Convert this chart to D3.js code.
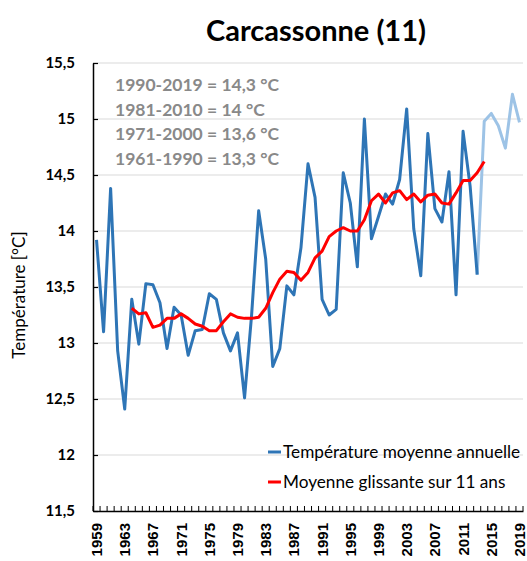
<!DOCTYPE html>
<html>
<head>
<meta charset="utf-8">
<script src="https://cdn.jsdelivr.net/npm/d3@7"></script>
<style>
  body { margin: 0; background: #fff; }
  svg { display: block; font-family: Lato, "Open Sans", sans-serif; }
</style>
</head>
<body>
<div id="chart"></div>
<script>
// Carcassonne annual mean temperature

const width = 527
const height = 561
const margin = { top: 63, right: 4, bottom: 50, left: 93 }

// Data
const years = d3.range(1959, 2020)
const temps = [
  13.92, 13.10, 14.38, 12.93, 12.41, 13.39, 12.99, 13.53, 13.52, 13.36,
  12.95, 13.32, 13.25, 12.89, 13.11, 13.12, 13.44, 13.39, 13.09, 12.93,
  13.09, 12.51, 13.25, 14.18, 13.75, 12.79, 12.95, 13.51, 13.43, 13.85,
  14.60, 14.30, 13.39, 13.25, 13.30, 14.52, 14.25, 13.68, 15.00, 13.93,
  14.13, 14.33, 14.24, 14.46, 15.09, 14.02, 13.60, 14.87, 14.20, 14.08,
  14.53, 13.43, 14.89, 14.40, 13.61, 14.98, 15.05, 14.94, 14.74, 15.22,
  14.97
]
const lastDarkYear = 2013
const avgYears = d3.range(1964, 2015)
const avg11 = [
  13.31, 13.26, 13.27, 13.14, 13.16, 13.22, 13.22, 13.26, 13.22, 13.17,
  13.15, 13.11, 13.11, 13.19, 13.26, 13.23, 13.22, 13.22, 13.23, 13.31,
  13.45, 13.57, 13.64, 13.63, 13.56, 13.63, 13.76, 13.82, 13.95, 14.00,
  14.03, 14.00, 14.00, 14.10, 14.27, 14.33, 14.25, 14.34, 14.36, 14.28,
  14.33, 14.26, 14.32, 14.33, 14.25, 14.24, 14.34, 14.45, 14.45, 14.52,
  14.62
]
const yTicks = [11.5, 12, 12.5, 13, 13.5, 14, 14.5, 15, 15.5]
const xLabelYears = d3.range(1959, 2020, 4)
const normals = [
  '1990-2019 = 14,3 °C',
  '1981-2010 = 14 °C',
  '1971-2000 = 13,6 °C',
  '1961-1990 = 13,3 °C'
]
const legendItems = [
  { label: 'Température moyenne annuelle', color: '#2e75b6' },
  { label: 'Moyenne glissante sur 11 ans', color: '#ff0000' }
]

const fmt = d => String(d).replace('.', ',')

const svg = d3.select('#chart')
  .append('svg')
  .attr('width', width)
  .attr('height', height)

const x = d3.scaleBand()
  .domain(years)
  .range([margin.left, width - margin.right])

const y = d3.scaleLinear()
  .domain([11.5, 15.5])
  .range([height - margin.bottom, margin.top])

const cx = d => x(d) + x.bandwidth() / 2

// Gridlines
svg.append('g')
  .selectAll('line')
  .data(yTicks.slice(1))
  .join('line')
  .attr('x1', margin.left)
  .attr('x2', width - margin.right)
  .attr('y1', d => y(d))
  .attr('y2', d => y(d))
  .attr('stroke', '#d9d9d9')
  .attr('stroke-width', 1)

// Y axis
const yAxis = svg.append('g')
  .attr('transform', `translate(${margin.left},0)`)
  .call(d3.axisLeft(y).tickValues(yTicks).tickFormat(fmt).tickSizeInner(-5).tickSizeOuter(0).tickPadding(18))
yAxis.select('.domain').attr('stroke', '#000').attr('stroke-width', 1.5)
yAxis.selectAll('.tick line').attr('stroke', '#000').attr('stroke-width', 1.2)
yAxis.selectAll('.tick text')
  .attr('font-family', 'Lato')
  .attr('font-size', 15)
  .attr('font-weight', 'bold')
  .attr('fill', '#000')

// X axis
const xAxis = svg.append('g')
  .attr('transform', `translate(0,${height - margin.bottom})`)
  .call(d3.axisBottom(x).tickValues([]).tickSizeOuter(0))
xAxis.select('.domain').attr('stroke', '#000').attr('stroke-width', 1.5)

// band boundary ticks, pointing up
xAxis.append('g')
  .selectAll('line')
  .data(years.concat([2020]))
  .join('line')
  .attr('x1', d => d === 2020 ? x.range()[1] : x(d))
  .attr('x2', d => d === 2020 ? x.range()[1] : x(d))
  .attr('y1', 0)
  .attr('y2', -5)
  .attr('stroke', '#000')
  .attr('stroke-width', 1)

xAxis.append('g')
  .selectAll('text')
  .data(xLabelYears)
  .join('text')
  .attr('transform', d => `translate(${cx(d) + 5.5},12) rotate(-90)`)
  .attr('text-anchor', 'end')
  .attr('font-size', 15)
  .attr('font-weight', 'bold')
  .attr('fill', '#000')
  .text(d => d)

// Lines
const line = d3.line()
  .x(d => cx(d[0]))
  .y(d => y(d[1]))

const tempPts = years.map((yr, i) => [yr, temps[i]])
svg.append('path')
  .datum(tempPts.filter(d => d[0] >= lastDarkYear))
  .attr('d', line)
  .attr('fill', 'none')
  .attr('stroke', '#9dc3e6')
  .attr('stroke-width', 3)
  .attr('stroke-linejoin', 'round')

svg.append('path')
  .datum(tempPts.filter(d => d[0] <= lastDarkYear))
  .attr('d', line)
  .attr('fill', 'none')
  .attr('stroke', '#2e75b6')
  .attr('stroke-width', 3)
  .attr('stroke-linejoin', 'round')

svg.append('path')
  .datum(avgYears.map((yr, i) => [yr, avg11[i]]))
  .attr('d', line)
  .attr('fill', 'none')
  .attr('stroke', '#ff0000')
  .attr('stroke-width', 3)
  .attr('stroke-linejoin', 'round')

// Title
svg.append('text')
  .text('Carcassonne (11)')
  .attr('x', 316)
  .attr('y', 41)
  .attr('text-anchor', 'middle')
  .attr('font-size', 29)
  .attr('font-weight', 'bold')
  .attr('fill', '#000')

// Y axis title
svg.append('text')
  .text('Température [°C]')
  .attr('transform', `translate(25,${y(13.5) + 8}) rotate(-90)`)
  .attr('text-anchor', 'middle')
  .attr('font-size', 17)
  .attr('fill', '#000')

// Normals
svg.append('g')
  .selectAll('text')
  .data(normals)
  .join('text')
  .attr('x', 115)
  .attr('y', (d, i) => 91 + i * 24.7)
  .attr('font-size', 17.5)
  .attr('font-weight', 'bold')
  .attr('fill', '#898989')
  .text(d => d)

// Legend
const legend = svg.append('g')
  .selectAll('g')
  .data(legendItems)
  .join('g')
  .attr('transform', (d, i) => `translate(268,${452 + i * 30})`)
legend.append('line')
  .attr('x1', 0).attr('x2', 13)
  .attr('stroke', d => d.color)
  .attr('stroke-width', 3)
legend.append('text')
  .attr('x', 15)
  .attr('dy', '0.35em')
  .attr('font-size', 17.2)
  .attr('fill', '#000')
  .text(d => d.label)
</script>
</body>
</html>
